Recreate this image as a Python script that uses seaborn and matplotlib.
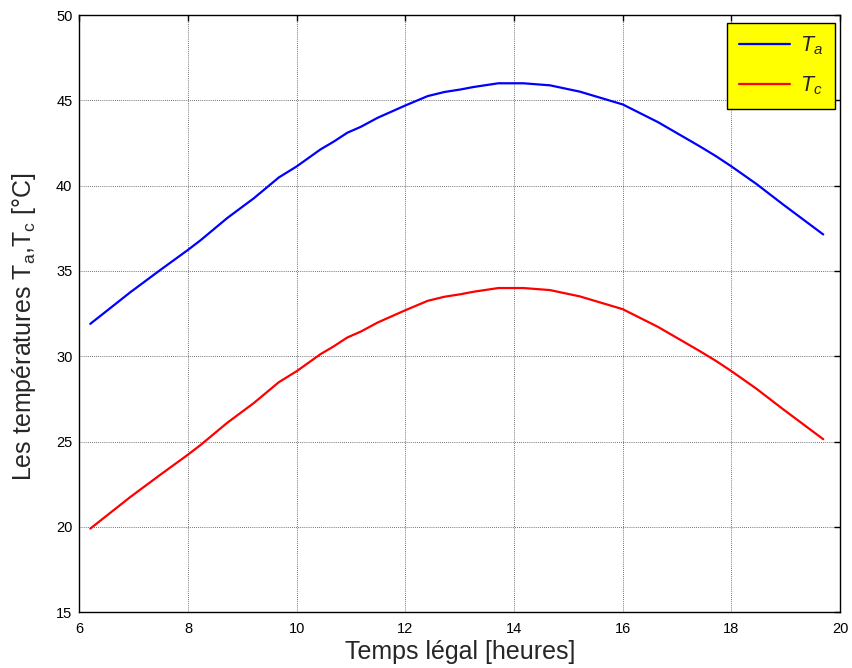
import matplotlib
matplotlib.use("Agg")
import matplotlib.pyplot as plt
import seaborn as sns
import pandas as pd

# Heure légale (h)
hours = [6.2, 6.63, 6.94, 7.49, 8.0, 8.23, 8.72, 9.21, 9.67, 10.0, 10.44, 10.68,
         10.93, 11.18, 11.49, 12.0, 12.41, 12.72, 13.02, 13.25, 13.71, 14.17,
         14.66, 15.21, 16.0, 16.65, 17.42, 17.72, 18.0, 18.46, 18.95, 19.69]

# Température ambiante T_a (°C)
t_a = [31.9, 32.98, 33.76, 35.06, 36.24, 36.8, 38.1, 39.26, 40.48, 41.13, 42.13, 42.58,
       43.1, 43.45, 43.98, 44.7, 45.25, 45.49, 45.64, 45.78, 46.0, 46.0,
       45.88, 45.51, 44.76, 43.72, 42.3, 41.72, 41.13, 40.1, 38.9, 37.14]

# Température T_c (°C)
t_c = [19.9, 20.98, 21.76, 23.06, 24.24, 24.8, 26.1, 27.26, 28.48, 29.13, 30.13, 30.58,
       31.1, 31.45, 31.98, 32.7, 33.25, 33.49, 33.64, 33.78, 34.0, 34.0,
       33.88, 33.51, 32.76, 31.72, 30.3, 29.72, 29.13, 28.1, 26.9, 25.14]

series_labels = [r"$T_a$", r"$T_c$"]
series_colors = ["#0000ff", "#ff0000"]

x_ticks = [6, 8, 10, 12, 14, 16, 18, 20]
y_ticks = [15, 20, 25, 30, 35, 40, 45, 50]

df = pd.concat([
    pd.DataFrame({"heure": hours, "temp": t_a, "serie": series_labels[0]}),
    pd.DataFrame({"heure": hours, "temp": t_c, "serie": series_labels[1]}),
], ignore_index=True)

sns.set_style("white")
plt.rcParams["font.family"] = ["Liberation Sans", "DejaVu Sans"]
plt.rcParams["mathtext.fontset"] = "custom"
plt.rcParams["mathtext.rm"] = "Liberation Sans"
plt.rcParams["mathtext.it"] = "Liberation Sans:italic"
plt.rcParams["mathtext.default"] = "it"

fig = plt.figure(figsize=(8.52, 6.68), dpi=100, facecolor="white")
ax = fig.add_axes([0.0932, 0.0835, 0.8928, 0.894])

sns.lineplot(data=df, x="heure", y="temp", hue="serie", palette=series_colors,
             linewidth=1.6, ax=ax, sort=False, estimator=None)

ax.set_xlim(6, 20)
ax.set_ylim(15, 50)
ax.set_xticks(x_ticks)
ax.set_yticks(y_ticks)
ax.tick_params(direction="in", length=4, width=1, top=True, right=True,
               labelsize=10.5, colors="black")
ax.tick_params(axis="x", pad=7)
ax.tick_params(axis="y", pad=5)
ax.grid(True, color="#444444", linestyle=(0, (1, 1.5)), linewidth=0.6)
for sp in ax.spines.values():
    sp.set_visible(True)
    sp.set_color("black")
    sp.set_linewidth(1.0)

ax.set_xlabel("Temps légal [heures]", fontsize=18, labelpad=3)
ax.set_ylabel(r"Les températures T$_\mathrm{a}$,T$_\mathrm{c}$ [°C]", fontsize=18)
ax.yaxis.set_label_coords(-0.054, 0.478)

leg = ax.legend(loc="upper right", bbox_to_anchor=(0.993, 0.987), fontsize=15.5,
                frameon=True, fancybox=False, facecolor="#ffff00", edgecolor="black",
                framealpha=1, handlelength=2.4, labelspacing=0.8, borderpad=0.55,
                handletextpad=0.45, borderaxespad=0)
leg.get_frame().set_linewidth(1.0)
leg.set_title(None)

fig.savefig("out.png", dpi=100, facecolor="white")
